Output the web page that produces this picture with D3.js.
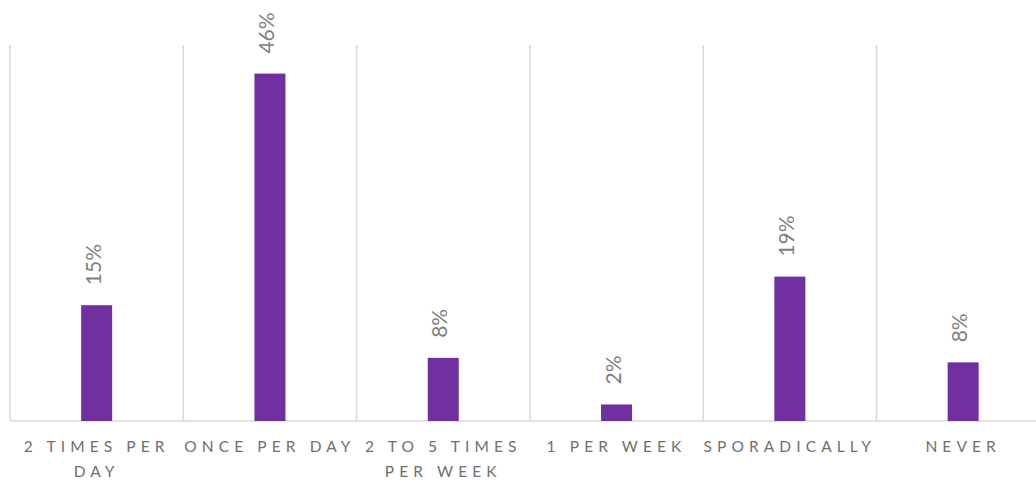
<!DOCTYPE html>
<html lang="en">
<head>
  <meta charset="utf-8">
  <title>Frequency</title>
  <script src="https://cdn.jsdelivr.net/npm/d3@7"></script>
  <style>
    body { margin: 0; background: #fff; overflow: hidden; }
    .grid line { stroke: #d9d9d9; stroke-width: 1.5px; }
    .value { font: 21px 'Lato', 'Open Sans', sans-serif; fill: #7f7f7f; }
    .cat { font: 15.5px 'Lato', 'Open Sans', sans-serif; fill: #6f6f6f; letter-spacing: 5.1px; }
  </style>
</head>
<body>
  <svg id="chart" width="1036" height="481"></svg>
  <script>
    // categories and shares
    const categories = ["2 TIMES PER DAY", "ONCE PER DAY", "2 TO 5 TIMES PER WEEK", "1 PER WEEK", "SPORADICALLY", "NEVER"];
    const shares = [0.154, 0.462, 0.084, 0.022, 0.192, 0.078];

    const svg = d3.select("#chart");
    const margin = {top: 45, left: 10, bottom: 60};
    const bandW = 173.3;
    const plotH = 481 - margin.top - margin.bottom;

    const x = d3.scaleBand().domain(categories)
      .range([margin.left, margin.left + bandW * categories.length])
      .paddingInner(0).paddingOuter(0);
    const y = d3.scaleLinear().domain([0, 0.5]).range([margin.top + plotH, margin.top]);
    const barW = 31;

    // vertical separators at the left edge of each band
    svg.append("g").attr("class", "grid").selectAll("line")
      .data(categories).enter().append("line")
      .attr("x1", d => x(d)).attr("x2", d => x(d))
      .attr("y1", y(0.5)).attr("y2", y(0));

    // baseline
    svg.append("line")
      .attr("x1", margin.left).attr("x2", 1036)
      .attr("y1", y(0)).attr("y2", y(0))
      .attr("stroke", "#d9d9d9").attr("stroke-width", 1.5);

    const data = categories.map((c, i) => ({cat: c, v: shares[i]}));

    svg.append("g").selectAll("rect")
      .data(data).enter().append("rect")
      .attr("x", d => x(d.cat) + x.bandwidth() / 2 - barW / 2)
      .attr("width", barW)
      .attr("y", d => y(d.v))
      .attr("height", d => y(0) - y(d.v))
      .attr("fill", "#7030a0");

    // rotated value labels
    const fmt = d3.format(".0%");
    svg.append("g").selectAll("text")
      .data(data).enter().append("text")
      .attr("class", "value")
      .attr("transform", d => `translate(${x(d.cat) + x.bandwidth() / 2 + 4},${y(d.v) - 20}) rotate(-90)`)
      .text(d => fmt(d.v));

    // category labels, wrapped to the band width
    const cats = svg.append("g").selectAll("text")
      .data(categories).enter().append("text")
      .attr("class", "cat")
      .attr("text-anchor", "middle")
      .attr("x", d => x(d) + x.bandwidth() / 2)
      .attr("y", y(0) + 31);

    cats.each(function(d) {
      const t = d3.select(this);
      const words = d.split(" ");
      let line = [];
      let tspan = t.append("tspan").attr("x", t.attr("x")).attr("dy", 0);
      for (const w of words) {
        line.push(w);
        tspan.text(line.join(" "));
        if (tspan.node().getComputedTextLength() > x.bandwidth() + 6 && line.length > 1) {
          line.pop();
          tspan.text(line.join(" "));
          line = [w];
          tspan = t.append("tspan").attr("x", t.attr("x")).attr("dy", 25).text(w);
        }
      }
    });
  </script>
</body>
</html>
